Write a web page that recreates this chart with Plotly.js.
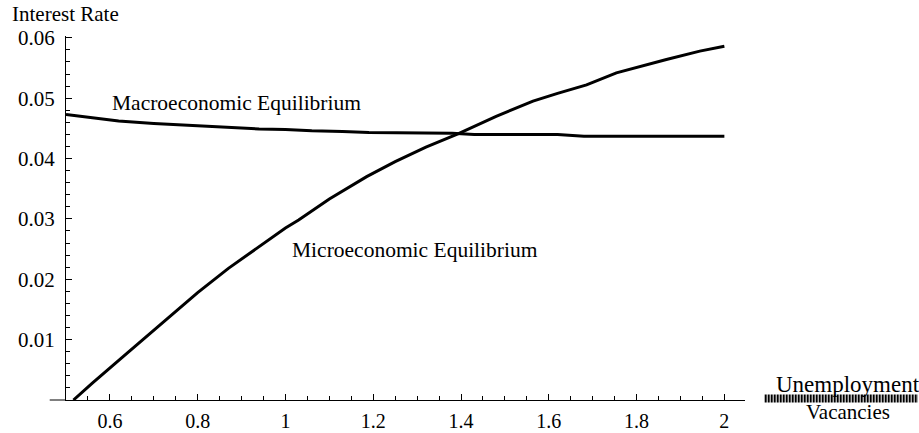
<!DOCTYPE html>
<html>
<head>
<meta charset="utf-8">
<script src="https://cdn.plot.ly/plotly-3.0.1.min.js"></script>
<style>html,body{margin:0;padding:0;background:#fff;}#chart{width:919px;height:433px;}</style>
</head>
<body>
<div id="chart"></div>
<script>
// Macroeconomic equilibrium curve
const macroX = [0.5, 0.62, 0.7, 0.8, 0.94, 1.0, 1.06, 1.13, 1.19, 1.38, 1.43, 1.62, 1.68, 2.0];
const macroY = [0.0473, 0.0462, 0.0458, 0.0454, 0.0449, 0.0448, 0.0446, 0.0445, 0.0443, 0.0442, 0.0440, 0.0440, 0.0437, 0.0437];
// Microeconomic equilibrium curve
const microX = [0.517, 0.56, 0.64, 0.72, 0.8, 0.87, 0.94, 1.0, 1.03, 1.1, 1.185, 1.25, 1.32, 1.393, 1.48, 1.564, 1.62, 1.686, 1.754, 1.81, 1.868, 1.944, 2.0];
const microY = [0, 0.0028, 0.0078, 0.0128, 0.0178, 0.0218, 0.0254, 0.0285, 0.0298, 0.0333, 0.0370, 0.0395, 0.0419, 0.0441, 0.0470, 0.0495, 0.0508, 0.0522, 0.0542, 0.0553, 0.0564, 0.0578, 0.0586];
// Tick labels
const xTickVals = [0.6, 0.8, 1, 1.2, 1.4, 1.6, 1.8, 2];
const xTickText = ["0.6", "0.8", "1", "1.2", "1.4", "1.6", "1.8", "2"];
const yTickVals = [0.01, 0.02, 0.03, 0.04, 0.05, 0.06];
const yTickText = ["0.01", "0.02", "0.03", "0.04", "0.05", "0.06"];
// Text
const yTitle = "Interest Rate";
const xTitleTop = "Unemployment";
const xTitleBottom = "Vacancies";
const macroLabel = "Macroeconomic Equilibrium";
const microLabel = "Microeconomic Equilibrium";

const FONT = '"Liberation Serif", "Times New Roman", serif';

// minor tick positions (axis decoration)
const xMinor = [];
for (let i = 11; i <= 40; i++) { const v = +(i * 0.05).toFixed(2); if (Math.abs(v / 0.2 - Math.round(v / 0.2)) > 1e-6) xMinor.push(v); }
const yMinor = [];
for (let i = 1; i <= 30; i++) { const v = +(i * 0.002).toFixed(3); if (Math.abs(v / 0.01 - Math.round(v / 0.01)) > 1e-6) yMinor.push(v); }

const traces = [
  {x: macroX, y: macroY, mode: 'lines', line: {color: '#000', width: 3}, hoverinfo: 'skip'},
  {x: microX, y: microY, mode: 'lines', line: {color: '#000', width: 3}, hoverinfo: 'skip'}
];

const layout = {
  width: 919, height: 433,
  margin: {l: 66, r: 174, t: 36, b: 33},
  paper_bgcolor: '#fff', plot_bgcolor: '#fff',
  showlegend: false,
  font: {family: FONT, size: 20, color: '#000'},
  xaxis: {
    range: [0.5, 2.047], showgrid: false, zeroline: false,
    showline: true, linecolor: '#000', linewidth: 1,
    tickmode: 'array', tickvals: xTickVals, ticktext: xTickText,
    ticks: 'inside', ticklen: 6, tickwidth: 1, tickcolor: '#000',
    ticklabelstandoff: 3,
    minor: {tickmode: 'array', tickvals: xMinor, ticks: 'inside', ticklen: 4, tickwidth: 1, tickcolor: '#000'},
    tickfont: {family: FONT, size: 20, color: '#000'},
    fixedrange: true
  },
  yaxis: {
    range: [0, 0.0603], showgrid: false, zeroline: false,
    showline: true, linecolor: '#000', linewidth: 1,
    tickmode: 'array', tickvals: yTickVals, ticktext: yTickText,
    ticks: 'inside', ticklen: 6, tickwidth: 1, tickcolor: '#000',
    ticklabelstandoff: 6,
    minor: {tickmode: 'array', tickvals: yMinor, ticks: 'inside', ticklen: 4, tickwidth: 1, tickcolor: '#000'},
    tickfont: {family: FONT, size: 21, color: '#000'},
    fixedrange: true
  },
  shapes: [
    {type: 'line', xref: 'paper', yref: 'paper', x0: -0.024, x1: 0, y0: 0, y1: 0, line: {color: '#000', width: 1}},
    {type: 'line', xref: 'paper', yref: 'paper', x0: 1.029, x1: 1.2548, y0: 0.004, y1: 0.004, line: {color: '#000', width: 8, dash: '2px,1px'}}
  ],
  annotations: [
    {text: yTitle, xref: 'paper', yref: 'paper', x: -0.0825, y: 1.06, xanchor: 'left', yanchor: 'middle', showarrow: false, font: {family: FONT, size: 21, color: '#000'}},
    {text: xTitleTop, xref: 'paper', yref: 'paper', x: 1.152, y: 0.042, xanchor: 'center', yanchor: 'middle', showarrow: false, font: {family: FONT, size: 23, color: '#000'}},
    {text: xTitleBottom, xref: 'paper', yref: 'paper', x: 1.152, y: -0.032, xanchor: 'center', yanchor: 'middle', showarrow: false, font: {family: FONT, size: 21, color: '#000'}},
    {text: macroLabel, xref: 'x', yref: 'y', x: 0.6, y: 0.0492, xanchor: 'left', yanchor: 'middle', showarrow: false, font: {family: FONT, size: 21.5, color: '#000'}},
    {text: microLabel, xref: 'x', yref: 'y', x: 1.01, y: 0.0249, xanchor: 'left', yanchor: 'middle', showarrow: false, font: {family: FONT, size: 21.5, color: '#000'}}
  ]
};

Plotly.newPlot('chart', traces, layout, {displayModeBar: false, staticPlot: true});
</script>
</body>
</html>
